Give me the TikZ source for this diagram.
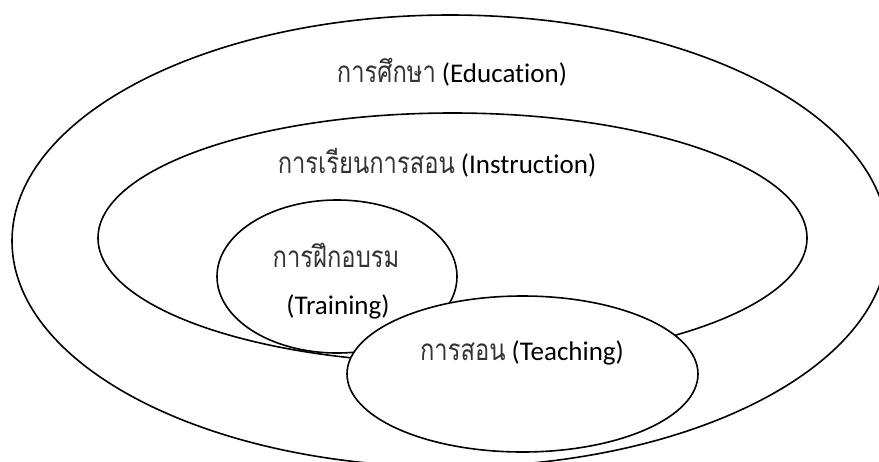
\documentclass[tikz,border=0pt]{standalone}
\usepackage{fontspec}
\setmainfont{Carlito}[Ligatures=NoCommon]
\newfontfamily\thaifont[Script=Thai, Scale=1.1, FakeStretch=0.8]{Loma}
\usetikzlibrary{shapes.geometric}
\newcommand{\thaitxt}[1]{{\thaifont\color{black!80}#1}}
\tikzset{
  ring/.style={draw=black, line width=1.6pt, ellipse, inner sep=0pt, outer sep=0pt},
  label txt/.style={font=\fontsize{27}{31}\selectfont, inner sep=0pt, text=black},
}
\begin{document}
\begin{tikzpicture}[x=1pt, y=-1pt]
\useasboundingbox (0,0) rectangle (879,461);
\clip (0,0) rectangle (879,461);
\fill[white] (0,0) rectangle (879,461);
\node[ring, minimum width=876pt, minimum height=452pt] (edu) at (450,241) {};
\node[ring, minimum width=709pt, minimum height=250pt] (ins) at (452.5,238) {};
\node[ring, fill=white, minimum width=240pt, minimum height=153pt] (tra) at (337,276.5) {};
\node[ring, fill=white, minimum width=351pt, minimum height=156pt] (tea) at (522.5,374) {};
\node[label txt] (edut) at (452,72) {\thaitxt{การศึกษา} (Education)};
\node[label txt] (inst) at (437,163) {\thaitxt{การเรียนการสอน} (Instruction)};
\node[label txt] (trat1) at (336,255) {\thaitxt{การฝึกอบรม}};
\node[label txt] (trat2) at (338,307) {(Training)};
\node[label txt] (teat) at (522,353) {\thaitxt{การสอน} (Teaching)};
\end{tikzpicture}
\end{document}
